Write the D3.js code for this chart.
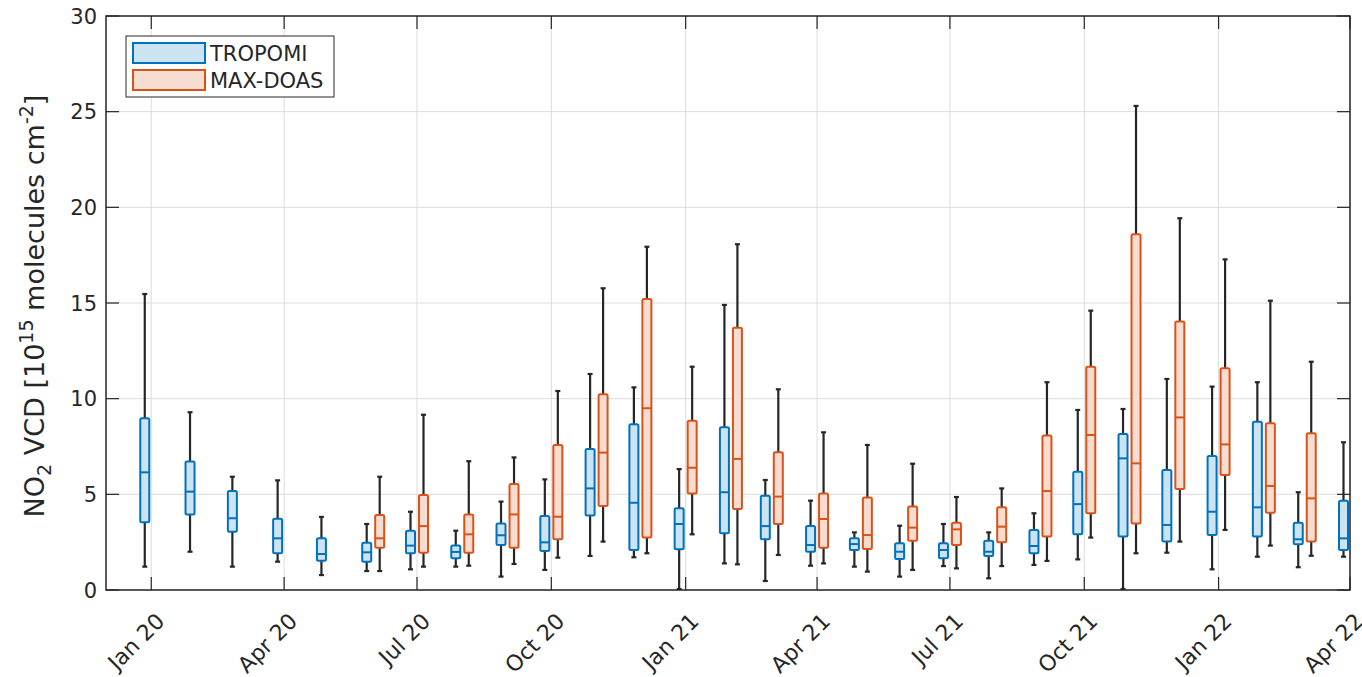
<!DOCTYPE html>
<html>
<head>
<meta charset="utf-8">
<script src="https://cdn.jsdelivr.net/npm/d3@7"></script>
<style>
  html, body { margin: 0; padding: 0; background: #fff; }
  svg { display: block; }
  text { font-family: "DejaVu Sans", sans-serif; fill: #262626; }
</style>
</head>
<body>
<svg id="chart" width="1362" height="677"></svg>
<script>
// Monthly NO2 VCD statistics: [lower whisker, Q1, median, Q3, upper whisker]
const tropomiMonths = [
  "2020-01","2020-02","2020-03","2020-04","2020-05","2020-06","2020-07","2020-08","2020-09","2020-10","2020-11","2020-12",
  "2021-01","2021-02","2021-03","2021-04","2021-05","2021-06","2021-07","2021-08","2021-09","2021-10","2021-11","2021-12",
  "2022-01","2022-02","2022-03","2022-04"
];
const tropomiStats = [
  [1.22, 3.54, 6.15, 8.97, 15.47],
  [2.00, 3.95, 5.14, 6.71, 9.29],
  [1.22, 3.05, 3.75, 5.17, 5.92],
  [1.48, 1.92, 2.70, 3.73, 5.73],
  [0.78, 1.53, 1.88, 2.70, 3.82],
  [0.99, 1.48, 1.97, 2.47, 3.45],
  [1.08, 1.92, 2.32, 3.10, 4.09],
  [1.22, 1.66, 1.99, 2.32, 3.10],
  [0.70, 2.35, 2.86, 3.48, 4.62],
  [1.05, 2.04, 2.49, 3.87, 5.78],
  [1.78, 3.89, 5.31, 7.37, 11.29],
  [1.71, 2.09, 4.56, 8.66, 10.59],
  [0.05, 2.13, 3.45, 4.27, 6.32],
  [1.39, 2.96, 5.11, 8.50, 14.90],
  [0.47, 2.65, 3.34, 4.93, 5.75],
  [1.27, 2.00, 2.35, 3.34, 4.67],
  [1.22, 2.09, 2.40, 2.70, 3.01],
  [0.70, 1.62, 2.00, 2.44, 3.36],
  [1.25, 1.66, 2.09, 2.44, 3.45],
  [0.61, 1.78, 2.00, 2.58, 3.01],
  [1.31, 1.92, 2.30, 3.14, 4.01],
  [1.60, 2.91, 4.49, 6.18, 9.41],
  [0.05, 2.79, 6.88, 8.15, 9.46],
  [1.95, 2.53, 3.40, 6.27, 11.03],
  [1.08, 2.87, 4.09, 7.00, 10.63],
  [1.74, 2.79, 4.32, 8.80, 10.86],
  [1.19, 2.39, 2.65, 3.52, 5.11],
  [1.74, 2.09, 2.70, 4.67, 7.72]
];

const maxdoasMonths = [
  "2020-06","2020-07","2020-08","2020-09","2020-10","2020-11","2020-12",
  "2021-01","2021-02","2021-03","2021-04","2021-05","2021-06","2021-07","2021-08","2021-09","2021-10","2021-11","2021-12",
  "2022-01","2022-02","2022-03"
];
const maxdoasStats = [
  [0.99, 2.21, 2.70, 3.92, 5.92],
  [1.22, 1.95, 3.34, 4.97, 9.16],
  [1.27, 1.95, 2.91, 3.95, 6.73],
  [1.36, 2.21, 3.95, 5.54, 6.93],
  [1.69, 2.65, 3.83, 7.58, 10.40],
  [2.53, 4.39, 7.18, 10.23, 15.77],
  [1.92, 2.74, 9.50, 15.21, 17.94],
  [2.91, 5.05, 6.39, 8.85, 11.67],
  [1.34, 4.23, 6.85, 13.71, 18.07],
  [1.83, 3.45, 4.88, 7.20, 10.49],
  [1.39, 2.21, 3.71, 5.05, 8.24],
  [0.96, 2.14, 2.87, 4.84, 7.58],
  [1.05, 2.58, 3.26, 4.36, 6.60],
  [1.13, 2.35, 3.17, 3.52, 4.86],
  [1.25, 2.49, 3.31, 4.32, 5.31],
  [1.52, 2.79, 5.17, 8.07, 10.86],
  [2.74, 4.01, 8.10, 11.67, 14.60],
  [1.92, 3.48, 6.62, 18.59, 25.30],
  [2.53, 5.28, 9.02, 14.03, 19.43],
  [3.14, 6.01, 7.61, 11.59, 17.28],
  [2.32, 4.04, 5.44, 8.71, 15.12],
  [1.79, 2.53, 4.79, 8.19, 11.93]
];

const xTickDates = ["2020-01","2020-04","2020-07","2020-10","2021-01","2021-04","2021-07","2021-10","2022-01","2022-04"];
const xTickLabels = ["Jan 20","Apr 20","Jul 20","Oct 20","Jan 21","Apr 21","Jul 21","Oct 21","Jan 22","Apr 22"];
const yTicks = [0, 5, 10, 15, 20, 25, 30];
const xDomain = ["2019-12", "2022-04"];
const yDomain = [0, 30];

const seriesNames = ["TROPOMI", "MAX-DOAS"];

// ---- layout & style ----
const plotL = 106, plotR = 1350, plotT = 16, plotB = 590;
const boxW = 9, pairOffset = 6.5, capW = 5;
const styles = {
  "TROPOMI":  { stroke: "#0072BD", fill: "#cce3f2", offset: -pairOffset },
  "MAX-DOAS": { stroke: "#D95319", fill: "#f7dcd1", offset:  pairOffset }
};

const parseMonth = d3.timeParse("%Y-%m");
const svg = d3.select("#chart");

const x = d3.scaleTime().domain(xDomain.map(parseMonth)).range([plotL, plotR]);
const y = d3.scaleLinear().domain(yDomain).range([plotB, plotT]);

// grid
const grid = svg.append("g").attr("class", "grid");
grid.selectAll("line.gy").data(yTicks).join("line")
  .attr("x1", plotL).attr("x2", plotR)
  .attr("y1", d => y(d)).attr("y2", d => y(d))
  .attr("stroke", "#dcdcdc").attr("stroke-width", 1);
grid.selectAll("line.gx").data(xTickDates).join("line")
  .attr("x1", d => x(parseMonth(d))).attr("x2", d => x(parseMonth(d)))
  .attr("y1", plotT).attr("y2", plotB)
  .attr("stroke", "#dcdcdc").attr("stroke-width", 1);

// clip for marks
svg.append("defs").append("clipPath").attr("id", "plotClip")
  .append("rect").attr("x", plotL).attr("y", plotT).attr("width", plotR - plotL).attr("height", plotB - plotT);

const marks = svg.append("g").attr("clip-path", "url(#plotClip)");

function drawSeries(name, months, stats) {
  const st = styles[name];
  const data = months.map((m, i) => ({ date: parseMonth(m), s: stats[i] }));
  const g = marks.append("g").attr("class", "series");
  const grp = g.selectAll("g").data(data).join("g")
    .attr("transform", d => `translate(${x(d.date) + st.offset},0)`);

  // whiskers
  grp.append("line")
    .attr("x1", 0).attr("x2", 0)
    .attr("y1", d => y(d.s[3])).attr("y2", d => y(d.s[4]))
    .attr("stroke", "#262626").attr("stroke-width", 2.2);
  grp.append("line")
    .attr("x1", 0).attr("x2", 0)
    .attr("y1", d => y(d.s[1])).attr("y2", d => y(d.s[0]))
    .attr("stroke", "#262626").attr("stroke-width", 2.2);
  // whisker caps
  grp.append("line")
    .attr("x1", -capW / 2).attr("x2", capW / 2)
    .attr("y1", d => y(d.s[4])).attr("y2", d => y(d.s[4]))
    .attr("stroke", "#262626").attr("stroke-width", 2.2);
  grp.append("line")
    .attr("x1", -capW / 2).attr("x2", capW / 2)
    .attr("y1", d => y(d.s[0])).attr("y2", d => y(d.s[0]))
    .attr("stroke", "#262626").attr("stroke-width", 2.2);

  // box
  grp.append("rect")
    .attr("x", -boxW / 2).attr("width", boxW)
    .attr("y", d => y(d.s[3])).attr("height", d => y(d.s[1]) - y(d.s[3]))
    .attr("rx", 1.5)
    .attr("fill", st.fill).attr("stroke", st.stroke).attr("stroke-width", 2);
  // median
  grp.append("line")
    .attr("x1", -boxW / 2).attr("x2", boxW / 2)
    .attr("y1", d => y(d.s[2])).attr("y2", d => y(d.s[2]))
    .attr("stroke", st.stroke).attr("stroke-width", 2);
}

drawSeries("TROPOMI", tropomiMonths, tropomiStats);
drawSeries("MAX-DOAS", maxdoasMonths, maxdoasStats);

// axes box and inward ticks
const tickLen = 13;
const axes = svg.append("g").attr("class", "axes");
axes.append("rect")
  .attr("x", plotL).attr("y", plotT).attr("width", plotR - plotL).attr("height", plotB - plotT)
  .attr("fill", "none").attr("stroke", "#262626").attr("stroke-width", 1.5);

yTicks.forEach(v => {
  axes.append("line").attr("x1", plotL).attr("x2", plotL + tickLen)
    .attr("y1", y(v)).attr("y2", y(v)).attr("stroke", "#262626").attr("stroke-width", 1.2);
  axes.append("line").attr("x1", plotR).attr("x2", plotR - tickLen)
    .attr("y1", y(v)).attr("y2", y(v)).attr("stroke", "#262626").attr("stroke-width", 1.2);
});
xTickDates.forEach(d => {
  const xv = x(parseMonth(d));
  axes.append("line").attr("x1", xv).attr("x2", xv)
    .attr("y1", plotB).attr("y2", plotB - tickLen).attr("stroke", "#262626").attr("stroke-width", 1.2);
  axes.append("line").attr("x1", xv).attr("x2", xv)
    .attr("y1", plotT).attr("y2", plotT + tickLen).attr("stroke", "#262626").attr("stroke-width", 1.2);
});

// y tick labels
svg.append("g").selectAll("text").data(yTicks).join("text")
  .attr("x", plotL - 9).attr("y", d => y(d)).attr("dy", "0.36em")
  .attr("text-anchor", "end").attr("font-size", 21)
  .text(d => d);

// x tick labels, rotated
svg.append("g").selectAll("text").data(xTickDates).join("text")
  .attr("transform", d => `translate(${x(parseMonth(d)) + 9},${plotB + 27}) rotate(-45)`)
  .attr("dy", "0.36em")
  .attr("text-anchor", "end").attr("font-size", 22)
  .text((d, i) => xTickLabels[i]);

// y axis title
const yTitle = svg.append("text")
  .attr("transform", `translate(44,306) rotate(-90)`)
  .attr("text-anchor", "middle").attr("font-size", 27);
yTitle.append("tspan").text("NO");
yTitle.append("tspan").attr("font-size", 19).attr("dy", 7).text("2");
yTitle.append("tspan").attr("dy", -7).text(" VCD [10");
yTitle.append("tspan").attr("font-size", 19).attr("dy", -11).text("15");
yTitle.append("tspan").attr("dy", 11).text(" molecules cm");
yTitle.append("tspan").attr("font-size", 19).attr("dy", -11).text("-2");
yTitle.append("tspan").attr("dy", 11).text("]");

// legend
const legend = svg.append("g").attr("transform", "translate(126,36)");
legend.append("rect").attr("width", 208).attr("height", 61)
  .attr("fill", "#fff").attr("stroke", "#262626").attr("stroke-width", 1);
seriesNames.forEach((name, i) => {
  const st = styles[name];
  legend.append("rect")
    .attr("x", 7).attr("y", 7 + i * 27).attr("width", 72).attr("height", 20)
    .attr("fill", st.fill).attr("stroke", st.stroke).attr("stroke-width", 2);
  legend.append("text")
    .attr("x", 84).attr("y", 17 + i * 27).attr("dy", "0.36em")
    .attr("font-size", 21)
    .text(name);
});
</script>
</body>
</html>
